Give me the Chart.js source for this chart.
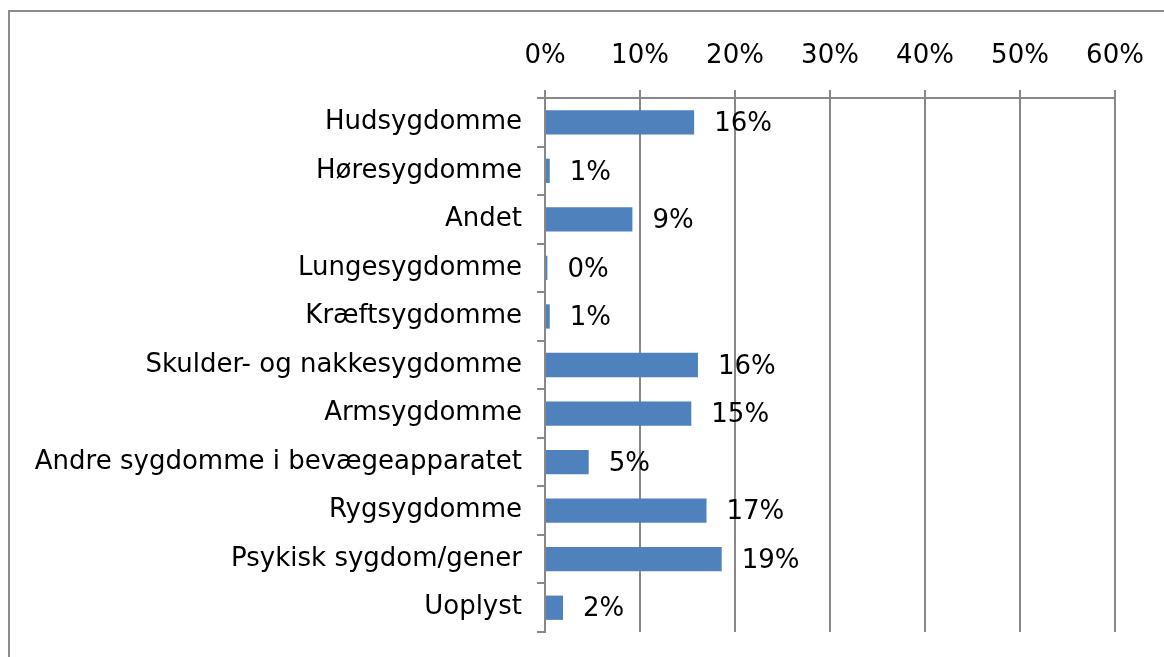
<!DOCTYPE html>
<html>
<head>
<meta charset="utf-8">
<script src="https://cdn.jsdelivr.net/npm/chart.js@4/dist/chart.umd.min.js"></script>
<style>
  html, body { margin: 0; padding: 0; background: #fff; }
  #wrap { width: 1164px; height: 657px; position: relative; }
</style>
</head>
<body>
<div id="wrap"><canvas id="c" width="1164" height="657"></canvas></div>
<script>
const categories = [
  "Hudsygdomme",
  "Høresygdomme",
  "Andet",
  "Lungesygdomme",
  "Kræftsygdomme",
  "Skulder- og nakkesygdomme",
  "Armsygdomme",
  "Andre sygdomme i bevægeapparatet",
  "Rygsygdomme",
  "Psykisk sygdom/gener",
  "Uoplyst"
];
const values = [15.7, 0.5, 9.2, 0.25, 0.5, 16.1, 15.4, 4.6, 17.0, 18.6, 1.9];
const tickMin = 0, tickMax = 60, tickStep = 10;

const FONT = "'DejaVu Sans', Verdana, sans-serif";
const FONT_SIZE = 26;
const GRID = '#888888';

const framePlugin = {
  id: 'frame',
  beforeDraw(chart) {
    const ctx = chart.ctx;
    ctx.save();
    ctx.strokeStyle = '#8c8c8c';
    ctx.lineWidth = 2;
    ctx.strokeRect(9, 11, 1300, 800);
    ctx.restore();
  }
};

const labelPlugin = {
  id: 'vlabels',
  afterDatasetsDraw(chart) {
    const ctx = chart.ctx;
    const meta = chart.getDatasetMeta(0);
    ctx.save();
    ctx.font = FONT_SIZE + 'px ' + FONT;
    ctx.fillStyle = '#000';
    ctx.textAlign = 'left';
    ctx.textBaseline = 'middle';
    meta.data.forEach((bar, i) => {
      ctx.fillText(Math.round(values[i]) + '%', bar.x + 20, bar.y + 2);
    });
    ctx.restore();
  }
};

new Chart(document.getElementById('c'), {
  type: 'bar',
  data: {
    labels: categories,
    datasets: [{
      data: values,
      backgroundColor: '#4f81bd',
      borderWidth: 0,
      categoryPercentage: 1,
      barPercentage: 0.5
    }]
  },
  plugins: [framePlugin, labelPlugin],
  options: {
    indexAxis: 'y',
    responsive: false,
    animation: false,
    devicePixelRatio: 1,
    layout: { padding: { top: 20, left: 10, right: 49, bottom: 25 } },
    plugins: { legend: { display: false }, tooltip: { enabled: false } },
    scales: {
      x: {
        position: 'top',
        min: tickMin,
        max: tickMax,
        afterFit(scale) { scale.height = 78; },
        ticks: {
          stepSize: tickStep,
          color: '#000',
          font: { family: FONT, size: FONT_SIZE },
          padding: 18,
          callback: v => v + '%'
        },
        grid: { color: GRID, lineWidth: 2, tickLength: 8, drawTicks: true },
        border: { color: GRID, width: 2 }
      },
      y: {
        afterFit(scale) {
          scale.width = 535;
          scale.paddingTop = 0;
          scale.paddingBottom = 0;
        },
        ticks: {
          color: '#000',
          font: { family: FONT, size: FONT_SIZE },
          padding: 15
        },
        grid: { color: GRID, lineWidth: 2, tickLength: 8, drawOnChartArea: false, offset: true },
        border: { color: GRID, width: 2 }
      }
    }
  }
});
</script>
</body>
</html>
